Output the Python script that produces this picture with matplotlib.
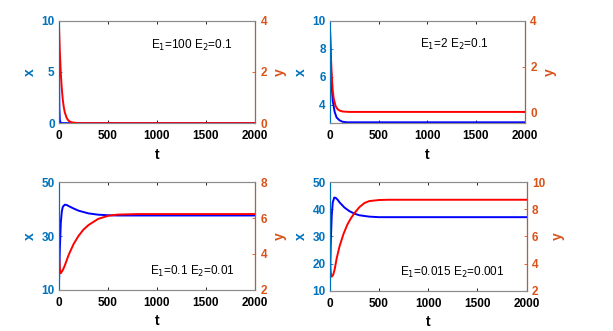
import matplotlib.pyplot as plt

plt.rcParams.update({
    'font.family': 'Liberation Sans',
    'font.size': 8.5,
    'axes.linewidth': 0.8,
})

col_x = '#0072BD'
col_y = '#D95319'
col_box = '#8c8c8c'

# panel 1: E1=100 E2=0.1
t1_x = [0, 2, 5, 10, 20, 2000]
x1 = [10, 5, 1.5, 0.3, 0, 0]
t1_y = [0, 10, 20, 30, 40, 50, 60, 80, 100, 130, 200, 2000]
y1 = [4, 2.8, 1.95, 1.35, 0.92, 0.63, 0.43, 0.2, 0.09, 0.03, 0, 0]

# panel 2: E1=2 E2=0.1
t2_x = [0, 10, 20, 30, 50, 70, 100, 130, 170, 2000]
x2 = [10, 7.0, 5.3, 4.3, 3.5, 3.1, 2.9, 2.8, 2.76, 2.76]
t2_y = [0, 10, 20, 30, 40, 60, 80, 100, 130, 160, 200, 2000]
y2 = [4, 2.6, 1.6, 0.95, 0.6, 0.27, 0.14, 0.08, 0.04, 0.03, 0.02, 0.02]

# panel 3: E1=0.1 E2=0.01
t3_x = [0, 10, 20, 30, 40, 60, 80, 100, 150, 200, 300, 400, 500, 600, 800, 2000]
x3 = [10, 25, 35, 39, 40.8, 41.6, 41.5, 41.1, 40.2, 39.4, 38.4, 37.9, 37.7, 37.6, 37.6, 37.6]
t3_y = [0, 10, 20, 40, 60, 100, 150, 200, 250, 300, 400, 500, 600, 800, 2000]
y3 = [4, 3.2, 2.93, 3.1, 3.35, 3.95, 4.55, 5.0, 5.35, 5.6, 5.95, 6.12, 6.19, 6.22, 6.22]

# panel 4: E1=0.015 E2=0.001
t4_x = [0, 10, 20, 30, 45, 60, 80, 100, 150, 200, 250, 300, 400, 500, 2000]
x4 = [10, 28, 38, 42.5, 44.3, 44.2, 43.5, 42.5, 40.6, 39.3, 38.4, 37.8, 37.3, 37.1, 37.1]
t4_y = [0, 10, 20, 35, 50, 70, 100, 140, 180, 220, 260, 300, 350, 400, 500, 600, 2000]
y4 = [4.04, 3.3, 3.05, 3.2, 3.6, 4.4, 5.3, 6.2, 6.9, 7.4, 7.8, 8.15, 8.45, 8.6, 8.68, 8.7, 8.7]

panels = [
    dict(pos=[0.096, 0.628, 0.32, 0.309], tx=t1_x, x=x1, ty=t1_y, y=y1,
         xlim=(0, 10), xticks=[0, 5, 10], ylim=(0, 4), yticks=[0, 2, 4],
         label='E$_1$=100 E$_2$=0.1', lpos=(0.68, 0.76)),
    dict(pos=[0.538, 0.628, 0.318, 0.309], tx=t2_x, x=x2, ty=t2_y, y=y2,
         xlim=(2.7, 10), xticks=[4, 6, 8, 10], ylim=(-0.47, 4), yticks=[0, 2, 4],
         label='E$_1$=2 E$_2$=0.1', lpos=(0.64, 0.77)),
    dict(pos=[0.096, 0.124, 0.32, 0.326], tx=t3_x, x=x3, ty=t3_y, y=y3,
         xlim=(10, 50), xticks=[10, 30, 50], ylim=(2, 8), yticks=[2, 4, 6, 8],
         label='E$_1$=0.1 E$_2$=0.01', lpos=(0.68, 0.17)),
    dict(pos=[0.538, 0.121, 0.321, 0.329], tx=t4_x, x=x4, ty=t4_y, y=y4,
         xlim=(10, 50), xticks=[10, 20, 30, 40, 50], ylim=(2, 10), yticks=[2, 4, 6, 8, 10],
         label='E$_1$=0.015 E$_2$=0.001', lpos=(0.62, 0.17)),
]

fig = plt.figure(figsize=(6.13, 3.31), dpi=100)

for p in panels:
    ax = fig.add_axes(p['pos'])
    ax.plot(p['tx'], p['x'], color='#0000ff', lw=1.4)
    ax.set_xlim(0, 2000)
    ax.set_xticks([0, 500, 1000, 1500, 2000])
    ax.set_ylim(*p['xlim'])
    ax.set_yticks(p['xticks'])
    ax.set_xlabel('t', fontsize=10, fontweight='bold', labelpad=4)
    ax.set_ylabel('x', fontsize=10, fontweight='bold', color=col_x, labelpad=3)
    ax.tick_params(direction='in', length=2.5, width=0.6, top=True)
    ax.tick_params(axis='x', pad=5)
    ax.tick_params(axis='y', colors=col_x, pad=3)
    for lab in ax.get_xticklabels() + ax.get_yticklabels():
        lab.set_fontweight('bold')
    ax.spines['left'].set_color(col_x)
    ax.spines['top'].set_color(col_box)
    ax.spines['bottom'].set_color(col_box)
    ax.text(p['lpos'][0], p['lpos'][1], p['label'], transform=ax.transAxes,
            ha='center', va='center', fontsize=8.5)

    ax2 = ax.twinx()
    ax2.plot(p['ty'], p['y'], color='#ff0000', lw=1.4)
    ax2.set_ylim(*p['ylim'])
    ax2.set_yticks(p['yticks'])
    ax2.set_ylabel('y', fontsize=10, fontweight='bold', color=col_y, labelpad=4)
    ax2.tick_params(axis='y', direction='in', length=2.5, width=0.6, colors=col_y, pad=4)
    for lab in ax2.get_yticklabels():
        lab.set_fontweight('bold')
    ax2.spines['right'].set_color(col_y)
    ax2.spines['left'].set_color(col_x)
    ax2.spines['top'].set_color(col_box)
    ax2.spines['bottom'].set_color(col_box)

fig.savefig('out.png', dpi=100)
